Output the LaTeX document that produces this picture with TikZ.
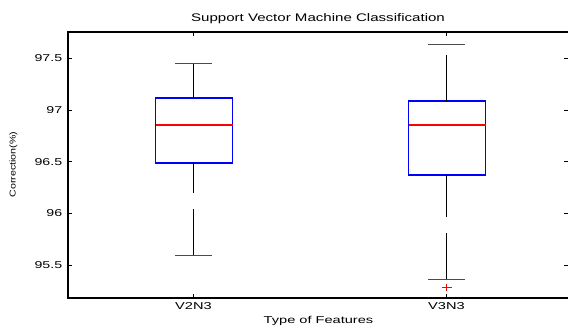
\documentclass[tikz,border=0pt]{standalone}
\usepackage{fontspec}
\setmainfont{Liberation Sans}
\begin{document}
\begin{tikzpicture}[x=1pt,y=-1pt,
  axisline/.style={black,line width=1.3pt},
  tickline/.style={black,line width=0.8pt},
  boxline/.style={draw=blue,line width=1.1pt},
  medline/.style={draw=red,line width=1.05pt},
  whisk/.style={black,line width=1pt},
  capline/.style={black!70,line width=1.2pt},
  outl/.style={red,line width=1pt},
  ticklab/.style={font=\fontsize{10}{10}\selectfont,inner sep=0pt,xscale=1.42},
  labtxt/.style={font=\fontsize{10}{10}\selectfont,inner sep=0pt,xscale=1.46},
]
\useasboundingbox (0,0) rectangle (568,325);
% axes
\coordinate (tl) at (68,32);
\coordinate (bl) at (68,298);
\coordinate (tr) at (568,32);
\coordinate (br) at (568,298);
\draw[axisline] (tr) -- (tl) -- (bl) -- (br);
% y ticks
\foreach \v/\y in {95.5/265, 96/213.3, 96.5/161.7, 97/110, 97.5/58}{
  \draw[tickline] (68,\y) -- (72,\y);
  \draw[tickline] (563.5,\y) -- (567.5,\y);
  \node[ticklab,anchor=east] (yl\v) at (62.5,\y) {\v};
}
% x ticks
\foreach \x in {193.5,446.5}{
  \draw[tickline] (\x,298) -- (\x,294);
  \draw[tickline] (\x,32) -- (\x,36);
}
\node[labtxt] (xl1) at (193.5,306) {V2N3};
\node[labtxt] (xl2) at (446.5,306) {V3N3};
% labels
\node[font=\fontsize{11}{11}\selectfont,inner sep=0pt,xscale=1.37] (title) at (318,19) {Support Vector Machine Classification};
\node[labtxt] (xlab) at (318.5,320.5) {Type of Features};
\node[inner sep=0pt] (ylab) at (13.5,164.5) {\rotatebox{90}{\scalebox{1.25}[1]{\fontsize{8.5}{8.5}\selectfont Correction(\%)}}};
% V2N3 box
\draw[boxline] (155.5,98) rectangle (232.5,163);
\draw[medline] (155.5,125) -- (232.5,125);
\draw[whisk] (193.5,98) -- (193.5,63.5);
\draw[capline] (175,63.5) -- (212,63.5);
\draw[whisk] (193.5,163) -- (193.5,193);
\draw[whisk] (193.5,209) -- (193.5,255.5);
\draw[capline] (175,255.5) -- (212,255.5);
% V3N3 box
\draw[boxline] (408.5,101) rectangle (485.5,175);
\draw[medline] (408.5,125) -- (485.5,125);
\draw[whisk] (446.5,101) -- (446.5,55);
\draw[capline] (428,44.5) -- (464.5,44.5);
\draw[whisk] (446.5,175) -- (446.5,217);
\draw[whisk] (446.5,233) -- (446.5,279.5);
\draw[capline] (428,279.5) -- (464.5,279.5);
\draw[outl] (441.5,287) -- (451.5,287) (446.5,284) -- (446.5,291);
\end{tikzpicture}
\end{document}
